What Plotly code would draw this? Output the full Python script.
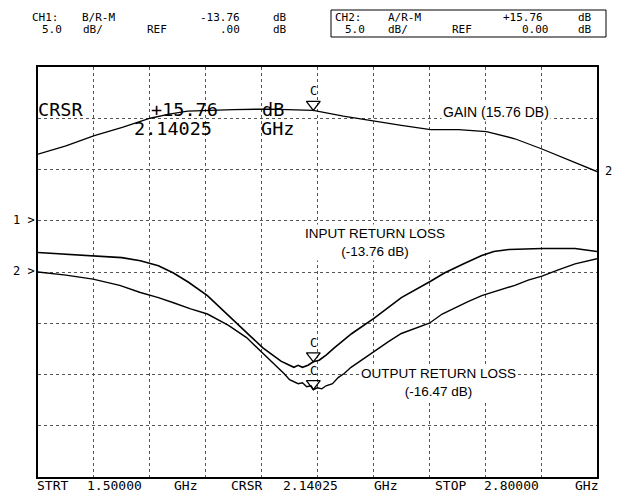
import plotly.graph_objects as go

# ---------------- data ----------------
cursor_freq = 2.14025

gain_freq = [1.500, 1.565, 1.631, 1.696, 1.761, 1.805, 1.848, 1.900, 1.955, 2.040, 2.100,
             2.14025, 2.210, 2.282, 2.345, 2.413, 2.478, 2.543, 2.609, 2.672, 2.735, 2.800]
gain_db = [11.5, 12.3, 13.3, 14.1, 15.0, 15.4, 15.7, 15.8, 15.85, 15.9, 15.8,
           15.76, 15.2, 14.7, 14.3, 13.9, 13.9, 13.7, 13.0, 12.0, 10.9, 9.8]

input_freq = [1.500, 1.565, 1.630, 1.695, 1.738, 1.780, 1.815, 1.850, 1.894, 1.930, 1.964,
              1.995, 2.023, 2.045, 2.065, 2.080, 2.095, 2.105, 2.115, 2.128, 2.14025,
              2.154, 2.170, 2.189, 2.230, 2.282, 2.345, 2.413, 2.445, 2.490, 2.532,
              2.560, 2.595, 2.672, 2.749, 2.800]
input_rl = [-3.1, -3.25, -3.4, -3.6, -3.9, -4.4, -5.1, -6.0, -7.3, -8.7, -10.0,
            -11.3, -12.4, -13.1, -13.7, -14.0, -14.3, -14.1, -14.3, -14.1, -13.76,
            -13.6, -13.1, -12.4, -11.0, -9.5, -7.5, -5.9, -5.1, -4.2, -3.4,
            -3.0, -2.8, -2.7, -2.7, -3.0]

output_freq = [1.500, 1.565, 1.628, 1.690, 1.738, 1.780, 1.815, 1.855, 1.894, 1.943, 1.985,
               2.023, 2.050, 2.072, 2.085, 2.095, 2.105, 2.115, 2.125, 2.135, 2.14025,
               2.150, 2.160, 2.170, 2.185, 2.198, 2.212, 2.228, 2.255, 2.282, 2.315,
               2.345, 2.380, 2.410, 2.440, 2.469, 2.500, 2.532, 2.570, 2.609, 2.640,
               2.672, 2.710, 2.749, 2.800]
output_rl = [-5.0, -5.3, -5.7, -6.3, -7.0, -7.5, -8.0, -8.6, -9.1, -10.2, -11.4,
             -12.9, -14.0, -14.9, -15.5, -15.7, -15.9, -15.8, -16.2, -16.1, -16.47,
             -16.3, -16.4, -16.1, -15.9, -15.3, -14.9, -14.3, -13.5, -12.7, -11.8,
             -11.0, -10.5, -10.0, -9.1, -8.5, -7.9, -7.3, -6.8, -6.3, -5.8,
             -5.4, -4.8, -4.2, -3.7]

cursor_input = -13.76
cursor_output = -16.47
cursor_gain = 15.76

# ---------------- layout helpers ----------------
W, H = 617, 492
L, R, T, B = 38, 20, 67, 15
PW, PH = W - L - R, H - T - B


def px(x):
    return (x - L) / PW


def py(y):
    return (H - B - y) / PH


MONO = "DejaVu Sans Mono"
SANS = "Liberation Sans"

fig = go.Figure()
fig.add_trace(go.Scatter(x=gain_freq, y=gain_db, mode="lines", line=dict(color="black", width=1.3),
                         yaxis="y2", name="Gain", hoverinfo="skip"))
fig.add_trace(go.Scatter(x=input_freq, y=input_rl, mode="lines", line=dict(color="black", width=1.6),
                         name="Input return loss", hoverinfo="skip"))
fig.add_trace(go.Scatter(x=output_freq, y=output_rl, mode="lines", line=dict(color="black", width=1.4),
                         name="Output return loss", hoverinfo="skip"))

# cursor triangles pointing down, tip on the trace (rotated up-triangle with standoff)
tri = dict(symbol="triangle-up-open", angle=180, size=12, color="black",
           line=dict(color="black", width=1.3), standoff=6)
fig.add_trace(go.Scatter(x=[cursor_freq], y=[cursor_gain], mode="markers", marker=tri,
                         yaxis="y2", hoverinfo="skip"))
fig.add_trace(go.Scatter(x=[cursor_freq, cursor_freq], y=[cursor_input, cursor_output],
                         mode="markers", marker=tri, hoverinfo="skip"))

annotations = []


def txt(s, x, y, size, font=MONO, anchor="left", bg=None):
    a = dict(text=s, x=px(x), y=py(y), xref="paper", yref="paper", showarrow=False,
             xanchor=anchor, yanchor="middle", borderpad=0,
             font=dict(family=font, size=size, color="black"))
    if bg:
        a["bgcolor"] = bg
    annotations.append(a)


# header channel 1
for s, x, y in [("CH1:", 31, 17.5), ("B/R-M", 81, 17.5), ("-13.76", 199, 17.5), ("dB", 272, 17.5),
                ("5.0", 41, 29.5), ("dB/", 82, 29.5), ("REF", 146, 29.5), (".00", 219, 29.5),
                ("dB", 272, 29.5)]:
    txt(s, x, y, 11)
# header channel 2
for s, x, y in [("CH2:", 334, 17.5), ("A/R-M", 387, 17.5), ("+15.76", 502, 17.5), ("dB", 577, 17.5),
                ("5.0", 344, 29.5), ("dB/", 387, 29.5), ("REF", 451, 29.5), ("0.00", 521, 29.5),
                ("dB", 577, 29.5)]:
    txt(s, x, y, 11)

# cursor readout
for s, x, y in [("CRSR", 37, 109.5), ("+15.76", 150, 109.5), ("dB", 261, 109.5),
                ("2.14025", 133, 128.5), ("GHz", 260, 128.5)]:
    txt(s, x, y, 18.5)

# reference markers
txt("1 >", 36, 220, 12, anchor="right")
txt("2 >", 36, 271, 12, anchor="right")
txt("2", 604, 171, 12)

# bottom frequency labels
for s, x in [("STRT", 36), ("1.50000", 86), ("GHz", 173),
             ("CRSR", 230), ("2.14025", 282), ("GHz", 373),
             ("STOP", 434), ("2.80000", 483), ("GHz", 574)]:
    txt(s, x, 485, 13)

# trace labels
annotations.append(dict(text="GAIN (15.76 DB)", x=px(496), y=py(112), xref="paper", yref="paper",
                        showarrow=False, xanchor="center", yanchor="middle", bgcolor="white",
                        font=dict(family=SANS, size=14, color="black")))
annotations.append(dict(text="INPUT RETURN LOSS<br>(-13.76 dB)", x=px(375), y=py(242),
                        xref="paper", yref="paper", showarrow=False, xanchor="center",
                        yanchor="middle", bgcolor="white",
                        font=dict(family=SANS, size=13.5, color="black")))
annotations.append(dict(text="OUTPUT RETURN LOSS<br>(-16.47 dB)", x=px(438), y=py(382),
                        xref="paper", yref="paper", showarrow=False, xanchor="center",
                        yanchor="middle", bgcolor="white",
                        font=dict(family=SANS, size=13.5, color="black")))

# cursor letters "C" above the triangles
for yv, yref in [(cursor_gain, "y2"), (cursor_input, "y"), (cursor_output, "y")]:
    annotations.append(dict(text="C", x=cursor_freq, y=yv, xref="x", yref=yref,
                            showarrow=False, xanchor="center", yanchor="bottom", yshift=11,
                            borderpad=0, font=dict(family=MONO, size=12, color="black")))

grid = dict(showgrid=True, gridcolor="#555555", gridwidth=1, griddash="dot",
            showline=True, linecolor="black", linewidth=2, mirror=True,
            ticks="", showticklabels=False, zeroline=False)

fig.update_layout(
    width=W, height=H,
    margin=dict(l=L, r=R, t=T, b=B),
    paper_bgcolor="white", plot_bgcolor="white",
    showlegend=False,
    xaxis=dict(range=[1.5, 2.8], tick0=1.5, dtick=0.13, **grid),
    yaxis=dict(range=[-25, 15], tick0=0, dtick=5, **grid),
    yaxis2=dict(range=[-20, 20], overlaying="y", showgrid=False, showticklabels=False,
                ticks="", zeroline=False, showline=False),
    annotations=annotations,
    shapes=[dict(type="rect", xref="paper", yref="paper", x0=px(331), x1=px(606),
                 y0=py(37), y1=py(10), line=dict(color="black", width=1))],
)

fig.write_html("out.html", config={"displayModeBar": False},
               post_script="document.body.style.margin='0';document.body.style.overflow='hidden';")
